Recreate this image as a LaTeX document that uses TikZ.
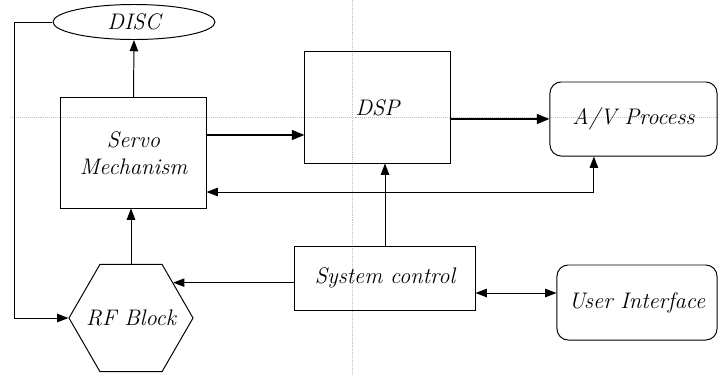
\documentclass[tikz,border=0pt]{standalone}
\usetikzlibrary{shapes,arrows.meta}
\tikzstyle{blk}=[rectangle,draw=black,line width=.7pt,font=\fontsize{16}{19}\selectfont\itshape,align=center,inner sep=1pt]
\tikzstyle{rnd}=[blk,rounded corners=8pt]
\tikzstyle{ln}=[line width=.7pt,-{Triangle[length=8pt,width=6pt]}]
\tikzstyle{lnn}=[line width=.7pt,{Triangle[length=8pt,width=6pt]}-{Triangle[length=8pt,width=6pt]}]
\tikzstyle{thk}=[line width=1.4pt,-{Triangle[length=9pt,width=7pt]}]

\begin{document}
\begin{tikzpicture}[x=.025cm,y=-.025cm]
\useasboundingbox (0,0) rectangle (718,376);
% scan guide dots
\draw[gray!50,densely dotted,line width=.4pt] (10,117) -- (718,117); \draw[gray!50,densely dotted,line width=.4pt] (352,0) -- (352,376);
% blocks
\node[blk,ellipse,minimum width=4.05cm,minimum height=.875cm] (disc) at (134,22) {DISC};
\node[blk,minimum width=3.625cm,minimum height=2.75cm] (servo) at (133.5,153) {Servo\\Mechanism};
\node[blk,minimum width=3.625cm,minimum height=2.775cm] (dsp) at (377.5,107.5) {DSP};
\node[rnd,minimum width=4.175cm,minimum height=1.85cm] (av) at (633.5,119) {A/V Process};
\node[blk,minimum width=4.5cm,minimum height=1.6cm] (sys) at (385,278) {System control};
\node[rnd,minimum width=4cm,minimum height=1.875cm] (ui) at (637,302.5) {User Interface};
\node[blk,regular polygon,regular polygon sides=6,minimum size=3.1cm,inner sep=0pt,
  label={[font=\fontsize{16}{19}\selectfont\itshape]center:RF Block}] (rf) at (131,318) {};
% links
\coordinate (lft) at (14,22);
\draw[ln] (servo.north) -- (disc.south);
\draw[ln] (disc.west) -- (lft) |- (rf.west);
\draw[thk] ([yshift=.45cm]servo.east) coordinate (s1) -- (s1 -| dsp.west);
\draw[thk] (dsp.east |- av.west) -- (av.west);
\draw[lnn] ([yshift=-.975cm]servo.east) -| ([xshift=-.99cm]av.south);
\draw[ln] (sys.north) -- (sys.north |- dsp.south);
\draw[ln] (rf.north) -- (rf.north |- servo.south);
\draw[ln] (rf.40 -| sys.west) -- (rf.40);
\draw[lnn] ([yshift=-.375cm]sys.east) coordinate (u1) -- (u1 -| ui.west);
\end{tikzpicture}
\end{document}
